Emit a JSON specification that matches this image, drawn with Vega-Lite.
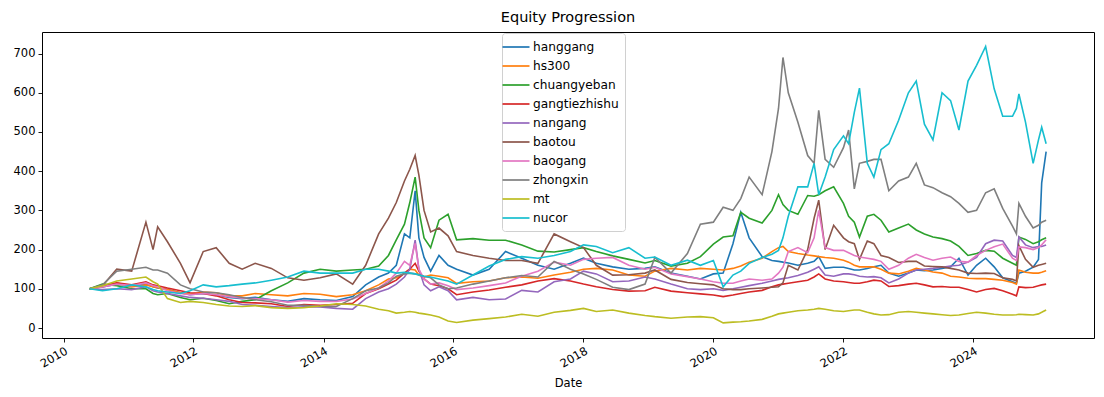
{
"$schema": "https://vega.github.io/schema/vega-lite/v6.json",
"width": 1052, "height": 306,
"autosize": {"type": "none"},
"padding": {"left": 42, "top": 32, "right": 10, "bottom": 59},
"background": "white",
"title": {"text": "Equity Progression", "font": "DejaVu Sans", "fontSize": 14.5, "fontWeight": "normal", "color": "black", "offset": 7},
"config": {
  "view": {"stroke": "black", "strokeWidth": 1},
  "axis": {"domain": false, "grid": false, "tickColor": "black", "tickSize": 4, "tickWidth": 0.9, "labelFont": "DejaVu Sans", "labelFontSize": 11.5, "labelColor": "black", "labelPadding": 3, "titleFont": "DejaVu Sans", "titleFontSize": 11.5, "titleFontWeight": "normal", "titleColor": "black"},
  "legend": {"labelFont": "DejaVu Sans", "labelFontSize": 12.2, "labelColor": "black"}
},
"data": {"values": [
{"d":"2010-05-27","hanggang":100,"hs300":100,"chuangyeban":100,"gangtiezhishu":100,"nangang":100,"baotou":100,"baogang":100,"zhongxin":100,"mt":100,"nucor":100},
{"d":"2010-08-08","hanggang":105,"hs300":108,"chuangyeban":112,"gangtiezhishu":105,"nangang":98,"baotou":108,"baogang":105,"zhongxin":110,"mt":108,"nucor":95},
{"d":"2010-10-27","hanggang":112,"hs300":115,"chuangyeban":108,"gangtiezhishu":115,"nangang":100,"baotou":150,"baogang":112,"zhongxin":145,"mt":120,"nucor":100},
{"d":"2011-01-19","hanggang":108,"hs300":105,"chuangyeban":100,"gangtiezhishu":110,"nangang":98,"baotou":145,"baogang":108,"zhongxin":150,"mt":125,"nucor":110},
{"d":"2011-04-09","hanggang":112,"hs300":110,"chuangyeban":100,"gangtiezhishu":118,"nangang":105,"baotou":270,"baogang":115,"zhongxin":155,"mt":130,"nucor":105},
{"d":"2011-05-19","hanggang":105,"hs300":105,"chuangyeban":88,"gangtiezhishu":110,"nangang":95,"baotou":200,"baogang":108,"zhongxin":148,"mt":118,"nucor":98},
{"d":"2011-06-14","hanggang":102,"hs300":103,"chuangyeban":85,"gangtiezhishu":108,"nangang":92,"baotou":258,"baogang":105,"zhongxin":148,"mt":112,"nucor":95},
{"d":"2011-08-08","hanggang":98,"hs300":98,"chuangyeban":88,"gangtiezhishu":102,"nangang":88,"baotou":220,"baogang":95,"zhongxin":140,"mt":75,"nucor":92},
{"d":"2011-10-20","hanggang":90,"hs300":90,"chuangyeban":78,"gangtiezhishu":95,"nangang":82,"baotou":165,"baogang":88,"zhongxin":110,"mt":65,"nucor":88},
{"d":"2011-12-13","hanggang":85,"hs300":86,"chuangyeban":72,"gangtiezhishu":90,"nangang":78,"baotou":115,"baogang":85,"zhongxin":100,"mt":68,"nucor":95},
{"d":"2012-02-25","hanggang":88,"hs300":92,"chuangyeban":76,"gangtiezhishu":88,"nangang":76,"baotou":195,"baogang":88,"zhongxin":92,"mt":65,"nucor":110},
{"d":"2012-05-08","hanggang":85,"hs300":90,"chuangyeban":70,"gangtiezhishu":82,"nangang":72,"baotou":205,"baogang":85,"zhongxin":90,"mt":60,"nucor":105},
{"d":"2012-07-20","hanggang":78,"hs300":82,"chuangyeban":62,"gangtiezhishu":72,"nangang":68,"baotou":165,"baogang":80,"zhongxin":85,"mt":56,"nucor":108},
{"d":"2012-10-01","hanggang":75,"hs300":82,"chuangyeban":68,"gangtiezhishu":65,"nangang":60,"baotou":150,"baogang":76,"zhongxin":78,"mt":55,"nucor":112},
{"d":"2012-12-13","hanggang":78,"hs300":88,"chuangyeban":72,"gangtiezhishu":64,"nangang":58,"baotou":165,"baogang":75,"zhongxin":72,"mt":57,"nucor":115},
{"d":"2013-03-14","hanggang":72,"hs300":85,"chuangyeban":95,"gangtiezhishu":62,"nangang":55,"baotou":152,"baogang":72,"zhongxin":67,"mt":52,"nucor":122},
{"d":"2013-06-14","hanggang":68,"hs300":82,"chuangyeban":115,"gangtiezhishu":55,"nangang":52,"baotou":128,"baogang":66,"zhongxin":58,"mt":50,"nucor":130},
{"d":"2013-09-13","hanggang":75,"hs300":88,"chuangyeban":140,"gangtiezhishu":60,"nangang":54,"baotou":122,"baogang":70,"zhongxin":58,"mt":52,"nucor":145},
{"d":"2013-12-13","hanggang":72,"hs300":86,"chuangyeban":150,"gangtiezhishu":58,"nangang":54,"baotou":128,"baogang":68,"zhongxin":55,"mt":56,"nucor":140},
{"d":"2014-03-14","hanggang":70,"hs300":80,"chuangyeban":145,"gangtiezhishu":60,"nangang":50,"baotou":138,"baogang":68,"zhongxin":55,"mt":62,"nucor":140},
{"d":"2014-06-14","hanggang":80,"hs300":85,"chuangyeban":148,"gangtiezhishu":63,"nangang":48,"baotou":112,"baogang":74,"zhongxin":75,"mt":60,"nucor":140},
{"d":"2014-08-26","hanggang":110,"hs300":95,"chuangyeban":150,"gangtiezhishu":88,"nangang":75,"baotou":160,"baogang":88,"zhongxin":95,"mt":56,"nucor":150},
{"d":"2014-11-07","hanggang":130,"hs300":110,"chuangyeban":158,"gangtiezhishu":100,"nangang":92,"baotou":240,"baogang":102,"zhongxin":102,"mt":48,"nucor":150},
{"d":"2015-01-01","hanggang":140,"hs300":125,"chuangyeban":185,"gangtiezhishu":112,"nangang":100,"baotou":280,"baogang":120,"zhongxin":115,"mt":44,"nucor":145},
{"d":"2015-02-14","hanggang":160,"hs300":128,"chuangyeban":225,"gangtiezhishu":122,"nangang":112,"baotou":320,"baogang":140,"zhongxin":132,"mt":38,"nucor":140},
{"d":"2015-04-01","hanggang":240,"hs300":140,"chuangyeban":265,"gangtiezhishu":140,"nangang":130,"baotou":375,"baogang":170,"zhongxin":138,"mt":40,"nucor":142},
{"d":"2015-05-01","hanggang":230,"hs300":150,"chuangyeban":320,"gangtiezhishu":150,"nangang":150,"baotou":405,"baogang":160,"zhongxin":140,"mt":42,"nucor":140},
{"d":"2015-05-31","hanggang":350,"hs300":148,"chuangyeban":385,"gangtiezhishu":165,"nangang":224,"baotou":440,"baogang":216,"zhongxin":138,"mt":40,"nucor":138},
{"d":"2015-06-21","hanggang":230,"hs300":135,"chuangyeban":300,"gangtiezhishu":145,"nangang":150,"baotou":390,"baogang":150,"zhongxin":136,"mt":38,"nucor":135},
{"d":"2015-07-20","hanggang":180,"hs300":130,"chuangyeban":230,"gangtiezhishu":125,"nangang":110,"baotou":300,"baogang":125,"zhongxin":132,"mt":36,"nucor":132},
{"d":"2015-08-26","hanggang":145,"hs300":135,"chuangyeban":205,"gangtiezhishu":112,"nangang":95,"baotou":245,"baogang":112,"zhongxin":128,"mt":33,"nucor":130},
{"d":"2015-10-12","hanggang":185,"hs300":132,"chuangyeban":275,"gangtiezhishu":108,"nangang":105,"baotou":255,"baogang":115,"zhongxin":110,"mt":28,"nucor":125},
{"d":"2015-12-02","hanggang":160,"hs300":128,"chuangyeban":290,"gangtiezhishu":100,"nangang":95,"baotou":235,"baogang":108,"zhongxin":100,"mt":18,"nucor":120},
{"d":"2016-01-19","hanggang":150,"hs300":114,"chuangyeban":225,"gangtiezhishu":85,"nangang":72,"baotou":195,"baogang":98,"zhongxin":102,"mt":14,"nucor":112},
{"d":"2016-04-20","hanggang":135,"hs300":118,"chuangyeban":228,"gangtiezhishu":92,"nangang":78,"baotou":185,"baogang":102,"zhongxin":112,"mt":20,"nucor":135},
{"d":"2016-07-20","hanggang":150,"hs300":120,"chuangyeban":224,"gangtiezhishu":97,"nangang":72,"baotou":178,"baogang":108,"zhongxin":120,"mt":24,"nucor":158},
{"d":"2016-10-20","hanggang":195,"hs300":128,"chuangyeban":224,"gangtiezhishu":104,"nangang":74,"baotou":172,"baogang":115,"zhongxin":128,"mt":28,"nucor":175},
{"d":"2017-01-19","hanggang":178,"hs300":130,"chuangyeban":212,"gangtiezhishu":110,"nangang":96,"baotou":172,"baogang":132,"zhongxin":134,"mt":35,"nucor":182},
{"d":"2017-04-20","hanggang":160,"hs300":127,"chuangyeban":196,"gangtiezhishu":120,"nangang":92,"baotou":165,"baogang":145,"zhongxin":130,"mt":30,"nucor":178},
{"d":"2017-07-20","hanggang":150,"hs300":135,"chuangyeban":194,"gangtiezhishu":126,"nangang":118,"baotou":240,"baogang":168,"zhongxin":170,"mt":40,"nucor":185},
{"d":"2017-10-20","hanggang":165,"hs300":142,"chuangyeban":200,"gangtiezhishu":120,"nangang":125,"baotou":220,"baogang":160,"zhongxin":150,"mt":45,"nucor":195},
{"d":"2018-01-01","hanggang":178,"hs300":150,"chuangyeban":205,"gangtiezhishu":112,"nangang":145,"baotou":205,"baogang":175,"zhongxin":138,"mt":50,"nucor":212},
{"d":"2018-03-14","hanggang":165,"hs300":152,"chuangyeban":195,"gangtiezhishu":105,"nangang":138,"baotou":160,"baogang":178,"zhongxin":124,"mt":42,"nucor":208},
{"d":"2018-06-14","hanggang":156,"hs300":148,"chuangyeban":184,"gangtiezhishu":98,"nangang":118,"baotou":135,"baogang":180,"zhongxin":104,"mt":46,"nucor":192},
{"d":"2018-09-13","hanggang":150,"hs300":135,"chuangyeban":175,"gangtiezhishu":94,"nangang":120,"baotou":136,"baogang":160,"zhongxin":98,"mt":38,"nucor":205},
{"d":"2018-12-13","hanggang":152,"hs300":132,"chuangyeban":166,"gangtiezhishu":95,"nangang":130,"baotou":140,"baogang":150,"zhongxin":112,"mt":32,"nucor":178},
{"d":"2019-02-06","hanggang":156,"hs300":145,"chuangyeban":172,"gangtiezhishu":104,"nangang":125,"baotou":148,"baogang":155,"zhongxin":180,"mt":29,"nucor":181},
{"d":"2019-05-08","hanggang":140,"hs300":152,"chuangyeban":158,"gangtiezhishu":94,"nangang":112,"baotou":124,"baogang":138,"zhongxin":140,"mt":25,"nucor":160},
{"d":"2019-08-08","hanggang":132,"hs300":148,"chuangyeban":165,"gangtiezhishu":90,"nangang":100,"baotou":116,"baogang":131,"zhongxin":190,"mt":28,"nucor":173},
{"d":"2019-10-20","hanggang":125,"hs300":152,"chuangyeban":182,"gangtiezhishu":87,"nangang":98,"baotou":113,"baogang":125,"zhongxin":265,"mt":29,"nucor":160},
{"d":"2020-01-01","hanggang":138,"hs300":150,"chuangyeban":214,"gangtiezhishu":84,"nangang":100,"baotou":110,"baogang":118,"zhongxin":270,"mt":26,"nucor":172},
{"d":"2020-02-25","hanggang":140,"hs300":148,"chuangyeban":232,"gangtiezhishu":80,"nangang":96,"baotou":100,"baogang":114,"zhongxin":308,"mt":13,"nucor":105},
{"d":"2020-04-20","hanggang":215,"hs300":152,"chuangyeban":235,"gangtiezhishu":84,"nangang":100,"baotou":98,"baogang":114,"zhongxin":300,"mt":15,"nucor":135},
{"d":"2020-06-03","hanggang":295,"hs300":158,"chuangyeban":295,"gangtiezhishu":88,"nangang":104,"baotou":98,"baogang":120,"zhongxin":330,"mt":16,"nucor":145},
{"d":"2020-07-20","hanggang":230,"hs300":168,"chuangyeban":280,"gangtiezhishu":92,"nangang":108,"baotou":100,"baogang":125,"zhongxin":385,"mt":18,"nucor":165},
{"d":"2020-10-01","hanggang":182,"hs300":178,"chuangyeban":268,"gangtiezhishu":96,"nangang":114,"baotou":102,"baogang":122,"zhongxin":340,"mt":22,"nucor":180},
{"d":"2020-11-25","hanggang":172,"hs300":195,"chuangyeban":300,"gangtiezhishu":105,"nangang":120,"baotou":104,"baogang":125,"zhongxin":450,"mt":30,"nucor":188},
{"d":"2021-01-01","hanggang":170,"hs300":205,"chuangyeban":340,"gangtiezhishu":110,"nangang":124,"baotou":105,"baogang":140,"zhongxin":560,"mt":36,"nucor":198},
{"d":"2021-01-26","hanggang":168,"hs300":208,"chuangyeban":315,"gangtiezhishu":112,"nangang":126,"baotou":115,"baogang":155,"zhongxin":690,"mt":38,"nucor":230},
{"d":"2021-02-25","hanggang":166,"hs300":195,"chuangyeban":300,"gangtiezhishu":114,"nangang":128,"baotou":160,"baogang":195,"zhongxin":600,"mt":40,"nucor":285},
{"d":"2021-04-20","hanggang":160,"hs300":190,"chuangyeban":290,"gangtiezhishu":118,"nangang":134,"baotou":148,"baogang":205,"zhongxin":525,"mt":44,"nucor":360},
{"d":"2021-06-14","hanggang":165,"hs300":186,"chuangyeban":338,"gangtiezhishu":122,"nangang":142,"baotou":200,"baogang":192,"zhongxin":440,"mt":46,"nucor":360},
{"d":"2021-07-20","hanggang":170,"hs300":184,"chuangyeban":336,"gangtiezhishu":130,"nangang":150,"baotou":280,"baogang":230,"zhongxin":420,"mt":48,"nucor":420},
{"d":"2021-08-15","hanggang":182,"hs300":182,"chuangyeban":340,"gangtiezhishu":138,"nangang":156,"baotou":326,"baogang":300,"zhongxin":555,"mt":50,"nucor":340},
{"d":"2021-09-20","hanggang":152,"hs300":180,"chuangyeban":350,"gangtiezhishu":125,"nangang":135,"baotou":200,"baogang":205,"zhongxin":430,"mt":48,"nucor":385},
{"d":"2021-11-07","hanggang":155,"hs300":178,"chuangyeban":360,"gangtiezhishu":120,"nangang":132,"baotou":262,"baogang":198,"zhongxin":410,"mt":44,"nucor":455},
{"d":"2022-01-01","hanggang":155,"hs300":173,"chuangyeban":318,"gangtiezhishu":118,"nangang":138,"baotou":230,"baogang":198,"zhongxin":460,"mt":42,"nucor":490},
{"d":"2022-01-30","hanggang":152,"hs300":168,"chuangyeban":285,"gangtiezhishu":116,"nangang":138,"baotou":220,"baogang":192,"zhongxin":505,"mt":44,"nucor":470},
{"d":"2022-03-03","hanggang":148,"hs300":160,"chuangyeban":270,"gangtiezhishu":114,"nangang":136,"baotou":215,"baogang":185,"zhongxin":355,"mt":46,"nucor":550},
{"d":"2022-04-01","hanggang":148,"hs300":156,"chuangyeban":232,"gangtiezhishu":114,"nangang":132,"baotou":175,"baogang":181,"zhongxin":420,"mt":46,"nucor":612},
{"d":"2022-05-15","hanggang":152,"hs300":156,"chuangyeban":285,"gangtiezhishu":118,"nangang":130,"baotou":222,"baogang":178,"zhongxin":425,"mt":40,"nucor":420},
{"d":"2022-06-21","hanggang":156,"hs300":156,"chuangyeban":290,"gangtiezhishu":122,"nangang":131,"baotou":215,"baogang":175,"zhongxin":430,"mt":36,"nucor":385},
{"d":"2022-07-31","hanggang":160,"hs300":150,"chuangyeban":275,"gangtiezhishu":120,"nangang":128,"baotou":185,"baogang":170,"zhongxin":430,"mt":33,"nucor":455},
{"d":"2022-09-13","hanggang":140,"hs300":140,"chuangyeban":245,"gangtiezhishu":106,"nangang":115,"baotou":180,"baogang":150,"zhongxin":350,"mt":34,"nucor":470},
{"d":"2022-11-07","hanggang":132,"hs300":138,"chuangyeban":255,"gangtiezhishu":108,"nangang":125,"baotou":167,"baogang":160,"zhongxin":375,"mt":40,"nucor":530},
{"d":"2023-01-01","hanggang":140,"hs300":145,"chuangyeban":265,"gangtiezhishu":112,"nangang":140,"baotou":170,"baogang":178,"zhongxin":385,"mt":42,"nucor":600},
{"d":"2023-02-14","hanggang":148,"hs300":152,"chuangyeban":250,"gangtiezhishu":114,"nangang":148,"baotou":170,"baogang":188,"zhongxin":420,"mt":40,"nucor":630},
{"d":"2023-04-01","hanggang":146,"hs300":148,"chuangyeban":240,"gangtiezhishu":110,"nangang":150,"baotou":158,"baogang":180,"zhongxin":365,"mt":38,"nucor":520},
{"d":"2023-05-19","hanggang":148,"hs300":143,"chuangyeban":232,"gangtiezhishu":105,"nangang":152,"baotou":157,"baogang":173,"zhongxin":358,"mt":36,"nucor":480},
{"d":"2023-07-09","hanggang":152,"hs300":140,"chuangyeban":228,"gangtiezhishu":106,"nangang":155,"baotou":156,"baogang":178,"zhongxin":345,"mt":34,"nucor":600},
{"d":"2023-08-26","hanggang":156,"hs300":132,"chuangyeban":222,"gangtiezhishu":104,"nangang":158,"baotou":152,"baogang":181,"zhongxin":335,"mt":32,"nucor":580},
{"d":"2023-10-12","hanggang":178,"hs300":130,"chuangyeban":208,"gangtiezhishu":104,"nangang":160,"baotou":148,"baogang":170,"zhongxin":318,"mt":33,"nucor":505},
{"d":"2023-12-02","hanggang":135,"hs300":127,"chuangyeban":185,"gangtiezhishu":98,"nangang":168,"baotou":140,"baogang":168,"zhongxin":295,"mt":37,"nucor":630},
{"d":"2024-01-19","hanggang":160,"hs300":126,"chuangyeban":190,"gangtiezhishu":92,"nangang":180,"baotou":139,"baogang":185,"zhongxin":300,"mt":40,"nucor":670},
{"d":"2024-03-10","hanggang":178,"hs300":126,"chuangyeban":198,"gangtiezhishu":98,"nangang":215,"baotou":140,"baogang":198,"zhongxin":345,"mt":38,"nucor":718},
{"d":"2024-04-27","hanggang":156,"hs300":124,"chuangyeban":196,"gangtiezhishu":101,"nangang":224,"baotou":139,"baogang":207,"zhongxin":355,"mt":35,"nucor":610},
{"d":"2024-06-14","hanggang":128,"hs300":122,"chuangyeban":178,"gangtiezhishu":95,"nangang":222,"baotou":128,"baogang":214,"zhongxin":305,"mt":33,"nucor":540},
{"d":"2024-08-08","hanggang":118,"hs300":116,"chuangyeban":165,"gangtiezhishu":86,"nangang":185,"baotou":124,"baogang":178,"zhongxin":260,"mt":33,"nucor":540},
{"d":"2024-08-30","hanggang":114,"hs300":112,"chuangyeban":160,"gangtiezhishu":82,"nangang":180,"baotou":120,"baogang":172,"zhongxin":240,"mt":34,"nucor":560},
{"d":"2024-09-13","hanggang":140,"hs300":148,"chuangyeban":232,"gangtiezhishu":105,"nangang":232,"baotou":210,"baogang":207,"zhongxin":318,"mt":35,"nucor":597},
{"d":"2024-10-20","hanggang":145,"hs300":142,"chuangyeban":226,"gangtiezhishu":103,"nangang":212,"baotou":175,"baogang":205,"zhongxin":285,"mt":34,"nucor":525},
{"d":"2024-12-02","hanggang":155,"hs300":140,"chuangyeban":215,"gangtiezhishu":104,"nangang":205,"baotou":155,"baogang":200,"zhongxin":255,"mt":33,"nucor":420},
{"d":"2025-01-01","hanggang":175,"hs300":140,"chuangyeban":220,"gangtiezhishu":108,"nangang":208,"baotou":160,"baogang":205,"zhongxin":262,"mt":36,"nucor":480},
{"d":"2025-01-19","hanggang":370,"hs300":142,"chuangyeban":225,"gangtiezhishu":110,"nangang":208,"baotou":162,"baogang":212,"zhongxin":270,"mt":40,"nucor":512},
{"d":"2025-02-13","hanggang":450,"hs300":146,"chuangyeban":230,"gangtiezhishu":112,"nangang":212,"baotou":165,"baogang":225,"zhongxin":275,"mt":46,"nucor":470}
]},
"transform": [
  {"fold": ["hanggang","hs300","chuangyeban","gangtiezhishu","nangang","baotou","baogang","zhongxin","mt","nucor"], "as": ["series","value"]}
],
"mark": {"type": "line", "strokeWidth": 1.6, "clip": true},
"encoding": {
  "x": {"field": "d", "type": "temporal", "title": "Date",
        "scale": {"domain": ["2009-09-02", "2025-11-09"]},
        "axis": {"values": [{"year":2010},{"year":2012},{"year":2014},{"year":2016},{"year":2018},{"year":2020},{"year":2022},{"year":2024}], "format": "%Y", "labelAngle": -30, "labelAlign": "right", "labelBaseline": "top", "titlePadding": 8}},
  "y": {"field": "value", "type": "quantitative", "title": null,
        "scale": {"domain": [-25.5, 755], "nice": false, "zero": false},
        "axis": {"values": [0,100,200,300,400,500,600,700]}},
  "color": {"field": "series", "type": "nominal",
    "scale": {"domain": ["hanggang","hs300","chuangyeban","gangtiezhishu","nangang","baotou","baogang","zhongxin","mt","nucor"],
              "range": ["#1f77b4","#ff7f0e","#2ca02c","#d62728","#9467bd","#8c564b","#e377c2","#7f7f7f","#bcbd22","#17becf"]},
    "legend": {"title": null, "orient": "none", "legendX": 460, "legendY": 1, "symbolType": "M-2,0H2", "symbolSize": 182, "symbolStrokeWidth": 1.7, "labelOffset": 9, "rowPadding": 4, "padding": 6, "strokeColor": "#d0d0d0", "fillColor": "white", "cornerRadius": 3}
  }
}
}
